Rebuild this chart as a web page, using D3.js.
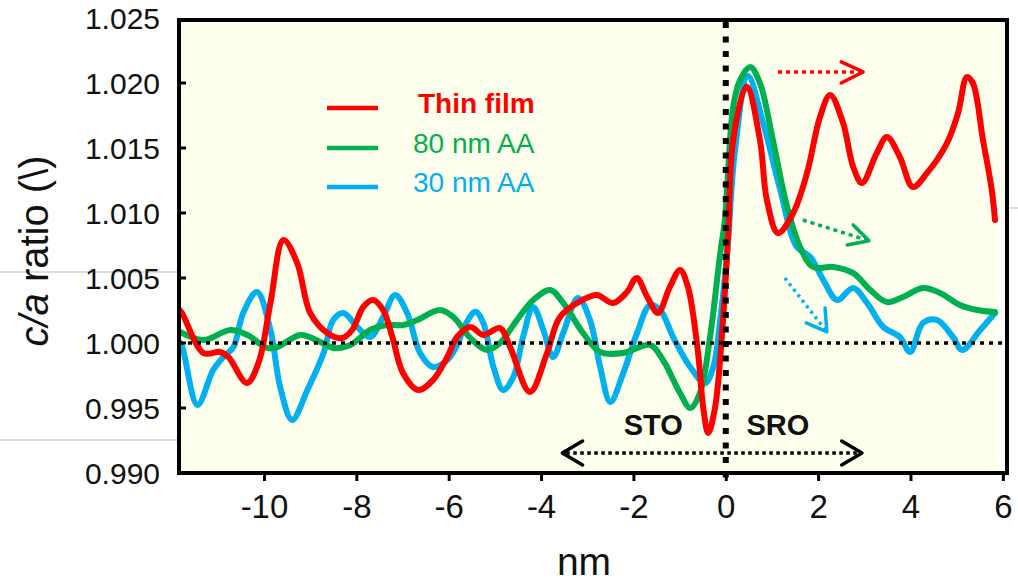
<!DOCTYPE html>
<html><head><meta charset="utf-8">
<script src="https://cdn.jsdelivr.net/npm/d3@7"></script>
<style>body{margin:0;background:#fff}svg{display:block}text{font-family:"Liberation Sans",Arial,sans-serif}</style>
</head><body>
<svg id="chart" width="1018" height="583"></svg>
<script>
// ---- data ----
const thinFilmX = [-11.84,-11.77,-11.31,-10.95,-10.77,-10.37,-10.12,-9.86,-9.58,-9.28,-9.00,-8.63,-8.31,-8.09,-7.85,-7.64,-7.42,-7.22,-6.99,-6.66,-6.34,-6.03,-5.82,-5.53,-5.25,-4.89,-4.67,-4.24,-3.87,-3.59,-3.10,-2.79,-2.44,-2.14,-1.93,-1.70,-1.47,-1.21,-0.99,-0.82,-0.60,-0.49,-0.38,-0.23,-0.06,0.05,0.16,0.45,0.74,0.89,1.13,1.46,1.76,2.04,2.26,2.54,2.76,2.95,3.27,3.49,3.77,4.05,4.36,4.79,5.03,5.22,5.35,5.57,5.76,5.83];
const thinFilmY = [1.0026,1.00228,0.99923,0.99931,0.99892,0.99692,0.99846,1.00308,1.00792,1.00615,1.00231,1.00077,1.00038,1.00100,1.00277,1.00331,1.00254,1.00046,0.99769,0.99638,0.99715,0.99892,1.00046,1.00123,1.00062,1.00115,0.99969,0.99623,0.99923,1.00200,1.00331,1.00369,1.00308,1.00392,1.00500,1.00354,1.00231,1.00431,1.00562,1.00431,0.99923,0.99508,0.99308,0.99508,1.00177,1.00815,1.01562,1.01972,1.01562,1.01100,1.00846,1.01000,1.01308,1.01738,1.01908,1.01692,1.01354,1.01231,1.01462,1.01585,1.01431,1.01200,1.01308,1.01538,1.01769,1.02046,1.02000,1.01562,1.01177,1.00946];

const aa80X = [-11.84,-11.31,-10.73,-10.36,-9.93,-9.71,-9.21,-8.78,-8.50,-8.13,-7.70,-7.33,-6.99,-6.68,-6.19,-5.90,-5.53,-5.17,-4.89,-4.52,-4.17,-3.80,-3.52,-3.09,-2.72,-2.22,-1.64,-1.36,-0.99,-0.77,-0.56,-0.34,-0.12,-0.02,0.16,0.31,0.53,0.74,1.02,1.33,1.61,1.89,2.33,2.76,3.13,3.49,3.84,4.27,4.64,5.07,5.44,5.83];
const aa80Y = [1.0009,1.00023,1.00100,1.00062,0.99962,0.99969,1.00062,1.00008,0.99962,0.99985,1.00100,1.00138,1.00138,1.00177,1.00254,1.00200,1.00038,0.99946,1.00000,1.00177,1.00331,1.00408,1.00308,1.00077,0.99931,0.99923,0.99985,0.99869,0.99615,0.99500,0.99615,1.00046,1.00692,1.00946,1.01815,1.02023,1.02123,1.02000,1.01562,1.01046,1.00738,1.00585,1.00585,1.00538,1.00408,1.00315,1.00354,1.00423,1.00385,1.00292,1.00254,1.00238];

const aa30X = [-11.84,-11.77,-11.44,-11.10,-10.88,-10.66,-10.45,-10.15,-9.86,-9.65,-9.39,-9.06,-8.71,-8.50,-8.28,-7.98,-7.70,-7.42,-7.16,-6.90,-6.62,-6.34,-6.03,-5.84,-5.62,-5.42,-5.25,-5.03,-4.82,-4.60,-4.39,-4.17,-3.95,-3.74,-3.52,-3.20,-2.94,-2.72,-2.50,-2.22,-1.92,-1.64,-1.42,-1.14,-0.77,-0.45,-0.27,-0.12,0.03,0.20,0.48,0.81,1.18,1.54,1.83,2.11,2.41,2.76,3.06,3.41,3.77,3.99,4.27,4.57,4.92,5.12,5.51,5.83];
const aa30Y = [1.0001,0.99969,0.99523,0.99792,0.99892,0.99969,1.00231,1.00392,1.00100,0.99662,0.99408,0.99638,0.99923,1.00177,1.00231,1.00123,1.00046,1.00200,1.00369,1.00231,0.99923,0.99815,0.99869,0.99969,1.00154,1.00240,1.00154,0.99815,0.99638,0.99738,1.00046,1.00277,1.00100,0.99892,1.00077,1.00346,1.00177,0.99815,0.99546,0.99769,1.00077,1.00292,1.00254,1.00046,0.99815,0.99692,0.99815,1.00177,1.00692,1.01485,1.02054,1.01692,1.01177,1.00738,1.00662,1.00485,1.00331,1.00423,1.00308,1.00123,1.00046,0.99931,1.00154,1.00177,1.00046,0.99946,1.00100,1.00231];

const xTicks = [-10,-8,-6,-4,-2,0,2,4,6];
const yTicks = [0.990,0.995,1.000,1.005,1.010,1.015,1.020,1.025];
const seriesNames = ["Thin film","80 nm AA","30 nm AA"];
const seriesColors = ["#ff0000","#00b050","#00b0f0"];

// annotation arrows (data units)
const redArrow = {x0:1.13, x1:2.93, y:1.02085, hx:2.50, hy0:1.02162, hy1:1.02000};
const greenArrow = {x0:1.67, y0:1.00946, x1:3.10, y1:1.00787, hx0:2.76, hy0:1.00908, hx1:2.63, hy1:1.00754};
const blueArrow = {x0:1.28, y0:1.0050, x1:2.19, y1:1.00085, hx0:2.15, hy0:1.00269, hx1:1.74, hy1:1.00154};
const spanArrow = {x0:-3.54, x1:2.95, y:0.99154, head:0.44, dy:0.00092};
const regionLabels = [{t:"STO", x:-1.57}, {t:"SRO", x:1.13}];
const regionLabelY = 0.99292;

// ---- scales ----
const x = d3.scaleLinear().domain([-11.84, 6.09]).range([179, 1007]);
const y = d3.scaleLinear().domain([0.990, 1.025]).range([473, 18]);
const svg = d3.select("#chart");

// artifacts of the original image
svg.append("line").attr("x1",0).attr("x2",177).attr("y1",272).attr("y2",272).attr("stroke","#bbb").attr("stroke-width",1);
svg.append("line").attr("x1",0).attr("x2",177).attr("y1",440).attr("y2",440).attr("stroke","#bbb").attr("stroke-width",1);
svg.append("line").attr("x1",1007).attr("x2",1018).attr("y1",208).attr("y2",208).attr("stroke","#bbb").attr("stroke-width",1);

// plot background
svg.append("rect").attr("x",179).attr("y",20).attr("width",828).attr("height",453).attr("fill","#ffffee");
svg.append("rect").attr("x",997).attr("y",208).attr("width",8).attr("height",263).attr("fill","#ffffff");

// curves
const line = d3.line().x(d=>x(d[0])).y(d=>y(d[1])).curve(d3.curveCatmullRom.alpha(0.5));
svg.append("clipPath").attr("id","clip").append("rect").attr("x",181).attr("y",22).attr("width",824).attr("height",449);
const g = svg.append("g").attr("clip-path","url(#clip)");
const series = [
  {xs:aa30X, ys:aa30Y, c:seriesColors[2]},
  {xs:aa80X, ys:aa80Y, c:seriesColors[1]},
  {xs:thinFilmX, ys:thinFilmY, c:seriesColors[0]}
];
series.forEach(s=>{
  g.append("path").datum(s.xs.map((v,i)=>[v,s.ys[i]])).attr("d",line)
   .attr("fill","none").attr("stroke",s.c).attr("stroke-width",6)
   .attr("stroke-linejoin","round").attr("stroke-linecap","round");
});

// reference dotted lines
svg.append("line").attr("x1",x(-11.84)).attr("x2",x(6.09)).attr("y1",y(1.0)).attr("y2",y(1.0))
  .attr("stroke","#000").attr("stroke-width",3.5).attr("stroke-dasharray","4,5");
svg.append("line").attr("x1",x(0)).attr("x2",x(0)).attr("y1",22).attr("y2",478)
  .attr("stroke","#000").attr("stroke-width",6).attr("stroke-dasharray","6,8.5");

// frame
svg.append("rect").attr("x",179).attr("y",20).attr("width",828).attr("height",453)
  .attr("fill","none").attr("stroke","#000").attr("stroke-width",4);

// axes
const xAxis = d3.axisBottom(x).tickValues(xTicks).tickSize(6).tickFormat(d3.format("d"));
const gx = svg.append("g").attr("transform","translate(0,475)").call(xAxis);
gx.select(".domain").remove();
gx.selectAll(".tick line").attr("stroke","#000").attr("stroke-width",3);
gx.selectAll(".tick text").attr("font-size",33).attr("fill","#111").attr("dy","1.02em")
  .text(d=>d<0?"-"+Math.abs(d):d);

const yAxis = d3.axisLeft(y).tickValues(yTicks).tickSize(0).tickPadding(0).tickFormat(d3.format(".3f"));
const gy = svg.append("g").attr("transform","translate(160,0)").call(yAxis);
gy.select(".domain").remove();
gy.selectAll(".tick text").attr("font-size",30).attr("fill","#111").attr("dy","0.36em");
// inside ticks
svg.append("g").selectAll("line").data(yTicks.slice(1,-1)).join("line")
  .attr("x1",181).attr("x2",186).attr("y1",d=>y(d)).attr("y2",d=>y(d)).attr("stroke","#000").attr("stroke-width",3);

// axis titles
svg.append("text").attr("x",584).attr("y",575).attr("text-anchor","middle").attr("font-size",39).attr("fill","#111").text("nm");
const yt = svg.append("text").attr("transform","translate(48,251) rotate(-90)").attr("text-anchor","middle").attr("font-size",40).attr("fill","#111");
yt.append("tspan").attr("font-style","italic").text("c/a");
yt.append("tspan").text(" ratio (\\)");

// legend
const legY = [108,148,187];
const legTextY = [113,153,192];
seriesNames.forEach((n,i)=>{
  svg.append("line").attr("x1",327).attr("x2",378).attr("y1",legY[i]).attr("y2",legY[i])
    .attr("stroke",seriesColors[i]).attr("stroke-width",4.5);
  svg.append("text").attr("x",i===0?418:413).attr("y",legTextY[i]).attr("font-size",28)
    .attr("font-weight",i===0?"bold":"normal").attr("fill",seriesColors[i]).text(n);
});

// arrows
function dotted(x1,y1,x2,y2,c,w,da){
  svg.append("line").attr("x1",x1).attr("y1",y1).attr("x2",x2).attr("y2",y2)
    .attr("stroke",c).attr("stroke-width",w).attr("stroke-dasharray",da);
}
function head(pts,c,w){
  svg.append("path").attr("d",d3.line()(pts)).attr("fill","none").attr("stroke",c)
    .attr("stroke-width",w).attr("stroke-linecap","round").attr("stroke-linejoin","round");
}
dotted(x(redArrow.x0),y(redArrow.y),x(redArrow.x1),y(redArrow.y),"#ff0000",3.5,"4,4");
head([[x(redArrow.hx),y(redArrow.hy0)],[x(redArrow.x1)+2,y(redArrow.y)],[x(redArrow.hx),y(redArrow.hy1)]],"#ff0000",3.5);
dotted(x(greenArrow.x0),y(greenArrow.y0),x(greenArrow.x1),y(greenArrow.y1),"#00b050",3.5,"4,4");
head([[x(greenArrow.hx0),y(greenArrow.hy0)],[x(greenArrow.x1),y(greenArrow.y1)],[x(greenArrow.hx1),y(greenArrow.hy1)]],"#00b050",3.5);
dotted(x(blueArrow.x0),y(blueArrow.y0),x(blueArrow.x1),y(blueArrow.y1),"#00b0f0",3.5,"3,4");
head([[x(blueArrow.hx0),y(blueArrow.hy0)],[x(blueArrow.x1),y(blueArrow.y1)],[x(blueArrow.hx1),y(blueArrow.hy1)]],"#00b0f0",3.5);

dotted(x(spanArrow.x0)+4,y(spanArrow.y),x(spanArrow.x1)-4,y(spanArrow.y),"#000",3.5,"3.5,3.5");
head([[x(spanArrow.x0+spanArrow.head),y(spanArrow.y+spanArrow.dy)],[x(spanArrow.x0),y(spanArrow.y)],[x(spanArrow.x0+spanArrow.head),y(spanArrow.y-spanArrow.dy)]],"#000",3.5);
head([[x(spanArrow.x1-spanArrow.head),y(spanArrow.y+spanArrow.dy)],[x(spanArrow.x1),y(spanArrow.y)],[x(spanArrow.x1-spanArrow.head),y(spanArrow.y-spanArrow.dy)]],"#000",3.5);

regionLabels.forEach(l=>{
  svg.append("text").attr("x",x(l.x)).attr("y",y(regionLabelY)).attr("text-anchor","middle")
    .attr("font-size",29).attr("font-weight","bold").attr("fill","#111").text(l.t);
});
</script>
</body></html>
